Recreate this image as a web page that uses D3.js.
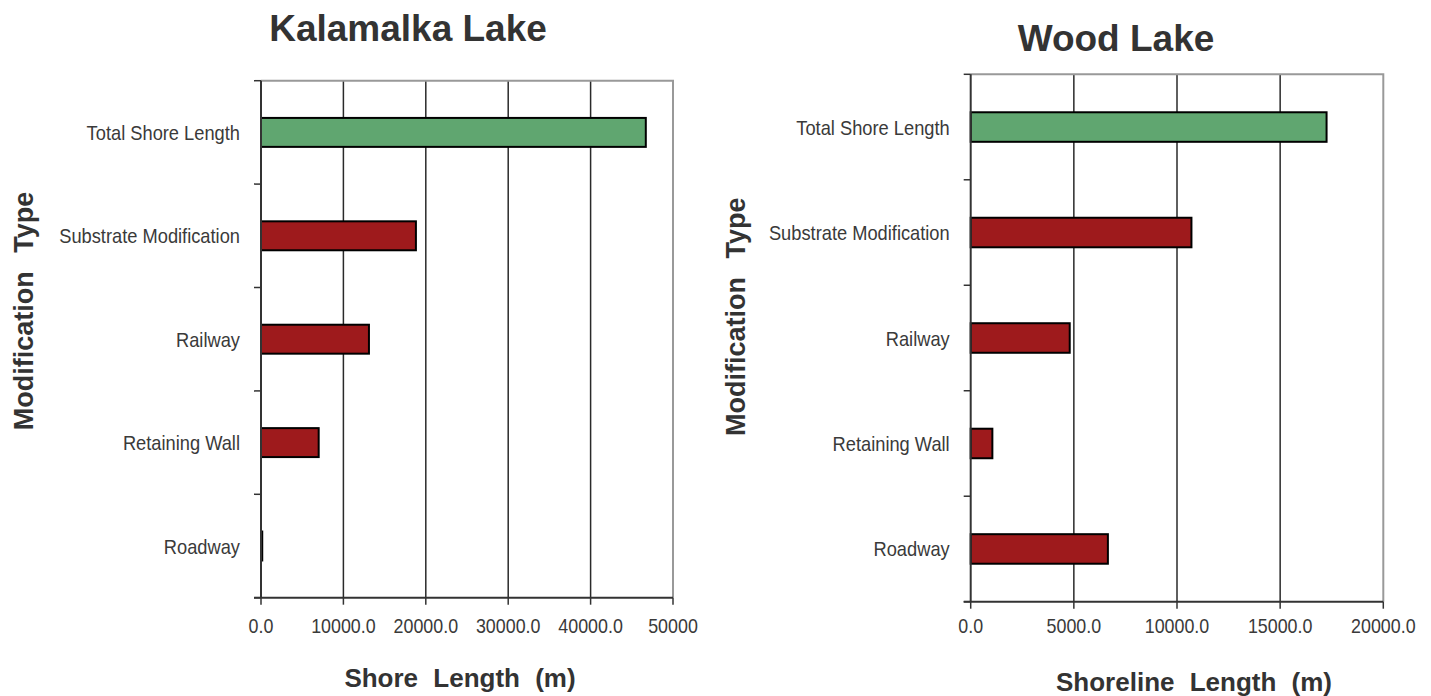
<!DOCTYPE html>
<html lang="en">
<head>
  <meta charset="UTF-8" />
  <title>Shoreline Modification</title>
  <script src="https://d3js.org/d3.v7.min.js"></script>
  <style>
    body { margin: 0; background: #fff; }
    svg { display: block; font-family: "Liberation Sans", Arial, sans-serif; }
    .title { font-size: 37px; font-weight: bold; fill: #333; }
    .axis-title { font-size: 26px; font-weight: bold; fill: #333; word-spacing: 8px; }
    .y-title { font-size: 27px; font-weight: bold; fill: #333; word-spacing: 11px; }
    .cat { font-size: 21px; fill: #3a3a3a; }
    .tick-label { font-size: 21px; fill: #3a3a3a; }
  </style>
</head>
<body>
  <div id="chart"></div>

  <script>
    const categories = ['Total Shore Length', 'Substrate Modification', 'Railway', 'Retaining Wall', 'Roadway'];

    // Kalamalka Lake, metres
    const kalamalkaValues = [46700, 18800, 13100, 7000, 150];
    const kalamalkaTicks = [0, 10000, 20000, 30000, 40000, 50000];
    const kalamalkaTickLabels = ['0.0', '10000.0', '20000.0', '30000.0', '40000.0', '50000'];

    // Wood Lake, metres
    const woodValues = [17250, 10700, 4800, 1050, 6650];
    const woodTicks = [0, 5000, 10000, 15000, 20000];
    const woodTickLabels = ['0.0', '5000.0', '10000.0', '15000.0', '20000.0'];

    const barColors = { total: '#60a670', mod: '#9e1a1c' };

    const svg = d3.select('#chart')
      .append('svg')
      .attr('width', 1431)
      .attr('height', 696);

    // squeeze text horizontally (source chart uses a narrow face)
    function squeeze(sel, f) {
      sel.each(function () {
        const len = this.getComputedTextLength();
        d3.select(this).attr('textLength', len * f).attr('lengthAdjust', 'spacingAndGlyphs');
      });
    }

    function drawChart(cfg) {
      const g = svg.append('g');
      const x = d3.scaleLinear().domain([0, cfg.ticks[cfg.ticks.length - 1]]).range([cfg.x0, cfg.x1]);
      const y = d3.scaleBand().domain(categories).range([cfg.yTop, cfg.yBot]).padding(0);
      const barH = y.bandwidth() * 0.28;

      // vertical gridlines
      g.selectAll('.grid')
        .data(cfg.ticks.slice(1, -1))
        .join('line')
        .attr('x1', d => x(d)).attr('x2', d => x(d))
        .attr('y1', cfg.yTop).attr('y2', cfg.yBot)
        .attr('stroke', '#2a2a2a').attr('stroke-width', 1.5);

      // plot border top / right
      g.append('path')
        .attr('d', `M${cfg.x0},${cfg.yTop}H${cfg.x1}V${cfg.yBot}`)
        .attr('fill', 'none').attr('stroke', '#999').attr('stroke-width', 2);

      // bars
      g.selectAll('.bar')
        .data(cfg.values)
        .join('rect')
        .attr('x', x(0))
        .attr('y', (d, i) => y(categories[i]) + (y.bandwidth() - barH) / 2)
        .attr('width', d => x(d) - x(0))
        .attr('height', barH)
        .attr('fill', (d, i) => i === 0 ? barColors.total : barColors.mod)
        .attr('stroke', '#000').attr('stroke-width', 2);

      // y axis line + ticks at band boundaries
      g.append('line')
        .attr('x1', cfg.x0).attr('x2', cfg.x0)
        .attr('y1', cfg.yTop).attr('y2', cfg.yBot)
        .attr('stroke', '#333').attr('stroke-width', 2);
      const bounds = categories.map(c => y(c)).concat([cfg.yBot]);
      g.selectAll('.ytick')
        .data(bounds)
        .join('line')
        .attr('x1', cfg.x0 - 7).attr('x2', cfg.x0)
        .attr('y1', d => d).attr('y2', d => d)
        .attr('stroke', '#333').attr('stroke-width', 1.5);

      // x axis line + ticks
      g.append('line')
        .attr('x1', cfg.x0 - 7).attr('x2', cfg.x1)
        .attr('y1', cfg.yBot).attr('y2', cfg.yBot)
        .attr('stroke', '#333').attr('stroke-width', 2);
      g.selectAll('.xtick')
        .data(cfg.ticks)
        .join('line')
        .attr('x1', d => x(d)).attr('x2', d => x(d))
        .attr('y1', cfg.yBot).attr('y2', cfg.yBot + 7)
        .attr('stroke', '#333').attr('stroke-width', 1.5);

      const tl = g.selectAll('.tick-label')
        .data(cfg.ticks)
        .join('text')
        .attr('class', 'tick-label')
        .attr('x', d => x(d))
        .attr('y', 633)
        .attr('text-anchor', 'middle')
        .text((d, i) => cfg.tickLabels[i]);
      squeeze(tl, 0.85);

      const cl = g.selectAll('.cat')
        .data(categories)
        .join('text')
        .attr('class', 'cat')
        .attr('x', cfg.x0 - 21)
        .attr('y', d => y(d) + y.bandwidth() / 2 + 7.5)
        .attr('text-anchor', 'end')
        .text(d => d);
      squeeze(cl, 0.87);

      g.append('text')
        .attr('class', 'title')
        .attr('x', cfg.titleX).attr('y', cfg.titleY)
        .attr('text-anchor', 'middle')
        .text(cfg.title);

      g.append('text')
        .attr('class', 'axis-title')
        .attr('x', cfg.xTitleX).attr('y', cfg.xTitleY)
        .attr('text-anchor', 'middle')
        .text(cfg.xTitle);

      g.append('text')
        .attr('class', 'y-title')
        .attr('transform', `translate(${cfg.yTitleX},${cfg.yTitleY}) rotate(-90)`)
        .attr('text-anchor', 'middle')
        .text('Modification Type');
    }

    drawChart({
      values: kalamalkaValues, ticks: kalamalkaTicks, tickLabels: kalamalkaTickLabels,
      x0: 261, x1: 673, yTop: 80.7, yBot: 597.7,
      title: 'Kalamalka Lake', titleX: 408, titleY: 41,
      xTitle: 'Shore Length (m)', xTitleX: 460, xTitleY: 687,
      yTitleX: 33, yTitleY: 311
    });

    drawChart({
      values: woodValues, ticks: woodTicks, tickLabels: woodTickLabels,
      x0: 970.7, x1: 1383.3, yTop: 74.3, yBot: 601.7,
      title: 'Wood Lake', titleX: 1116, titleY: 51,
      xTitle: 'Shoreline Length (m)', xTitleX: 1194, xTitleY: 691,
      yTitleX: 745, yTitleY: 316.7
    });
  </script>
</body>
</html>
